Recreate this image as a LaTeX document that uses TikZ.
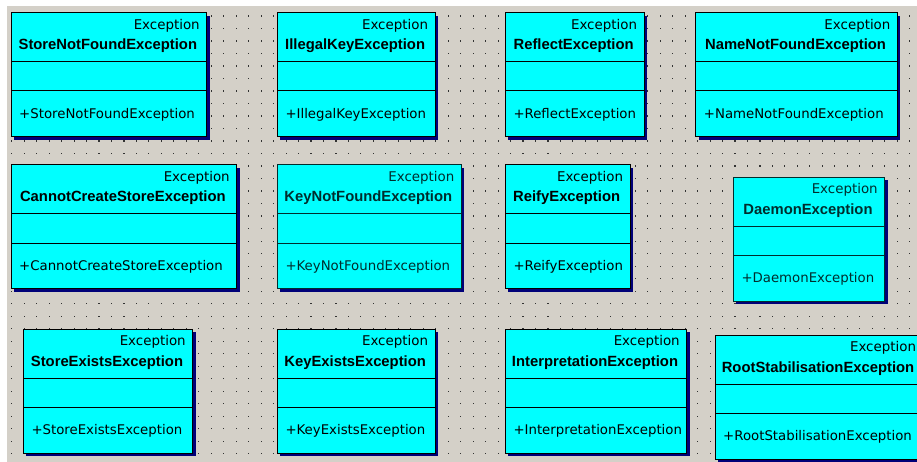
\documentclass[tikz,border=0pt]{standalone}
\usepackage{fontspec}
\setmainfont{DejaVu Sans}
\newfontfamily\headfont{Liberation Sans}
\usepackage{tikz}
\definecolor{canvas}{RGB}{212,208,200}
\definecolor{boxcyan}{RGB}{0,255,255}
\definecolor{boxshadow}{RGB}{0,0,120}
\definecolor{dimteal}{RGB}{0,45,45}
\newcommand{\pixel}{1pt}
\tikzset{
	stereotype/.style={inner sep=0pt, font=\fontsize{13.4}{15}\selectfont},
	classname/.style={inner sep=0pt, font=\headfont\bfseries\fontsize{14.8}{16}\selectfont},
	operation/.style={inner sep=0pt, font=\fontsize{13.3}{15}\selectfont}
}
\newcommand{\classbox}[6]{
	\begin{scope}[shift={(#2,#3)}, draw=#6, text=#6, line width=1pt]
	\fill[boxshadow] (3,3) rectangle (#4+3,127);
	\filldraw[fill=boxcyan] (0,0) rectangle (#4,124);
	\draw (0,49) -- (#4,49) (0,78.3) -- (#4,78.3);
	\node[stereotype, anchor=base east] (#1-parent) at (#4-6.5,16.5) {Exception};
	\node[classname, anchor=base] (#1) at (#4/2-1,37.3) {#5};
	\node[operation, anchor=base west] (#1-op) at (7.7,105.5) {+#5};
	\end{scope}
}

\begin{document}
\begin{tikzpicture}[x=\pixel,y=-\pixel]
	\useasboundingbox (0,0) rectangle (917,462);
	\clip (0,0) rectangle (917,462);
	\fill[white] (0,0) rectangle (917,462);
	\fill[canvas] (7,6) rectangle (917,462);
	\foreach \i in {0,...,72}
		\foreach \j in {0,...,35}
			\fill[black!80] ({11.2+12.47*\i},{15.5+12.5*\j}) rectangle ++(1.1,1.1);

	\classbox{storenotfound}{11}{12.7}{195.7}{StoreNotFoundException}{black}
	\classbox{illegalkey}{277.3}{12.7}{157.7}{IllegalKeyException}{black}
	\classbox{reflect}{505.3}{12.7}{138.7}{ReflectException}{black}
	\classbox{namenotfound}{695.7}{12.7}{201.7}{NameNotFoundException}{black}

	\classbox{cannotcreate}{11}{164.7}{225.7}{CannotCreateStoreException}{black}
	\classbox{keynotfound}{277.3}{164.7}{184}{KeyNotFoundException}{dimteal}
	\classbox{reify}{505.3}{164.7}{124.7}{ReifyException}{black}
	\classbox{daemon}{733.3}{177.3}{151.4}{DaemonException}{dimteal}

	\classbox{storeexists}{23.3}{329.3}{169.4}{StoreExistsException}{black}
	\classbox{keyexists}{277.3}{329.3}{157.7}{KeyExistsException}{black}
	\classbox{interpretation}{505.3}{329.3}{181.4}{InterpretationException}{black}
	\classbox{rootstab}{715}{335.3}{208}{RootStabilisationException}{black}
\end{tikzpicture}
\end{document}
